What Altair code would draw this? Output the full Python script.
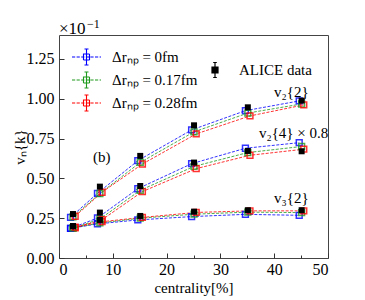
import altair as alt
import pandas as pd

FONT = "Liberation Serif"

# ---------------- data (values in units of 10^-1) ----------------
cent = [2.5, 7.5, 15, 25, 35, 45]
models = ["Δrₙₚ = 0fm", "Δrₙₚ = 0.17fm", "Δrₙₚ = 0.28fm"]
model_colors = ["#0000ff", "#1f9a1f", "#ff0000"]
model_shift = [-0.35, 0.1, 0.5]
alice_shift = 0.1
alice_label = "ALICE data"

v22_model = [
    [0.255, 0.406, 0.611, 0.804, 0.925, 0.986],
    [0.258, 0.405, 0.600, 0.792, 0.910, 0.967],
    [0.262, 0.413, 0.590, 0.779, 0.892, 0.961],
]
v24_model = [
    [0.186, 0.251, 0.435, 0.592, 0.689, 0.724],
    [0.186, 0.245, 0.425, 0.575, 0.662, 0.700],
    [0.190, 0.240, 0.417, 0.561, 0.645, 0.683],
]
v32_model = [
    [0.186, 0.214, 0.239, 0.260, 0.274, 0.268],
    [0.190, 0.220, 0.250, 0.275, 0.288, 0.285],
    [0.194, 0.228, 0.255, 0.286, 0.296, 0.296],
]
v22_alice = [0.276, 0.448, 0.641, 0.833, 0.946, 0.988]
v24_alice = [0.200, 0.285, 0.452, 0.599, 0.672, 0.670]
v32_alice = [0.200, 0.239, 0.264, 0.291, 0.300, 0.300]

ann_text = ["v₂{2}", "v₂{4} × 0.8", "v₃{2}", "(b)"]
ann_x = [43.2, 43.6, 43.2, 7.95]
ann_y = [1.043, 0.785, 0.377, 0.634]
exp_base = ["×10"]
exp_power = ["−1"]
exp_x = [0.0]
exp_y = [1.438]

x_major = [0, 10, 20, 30, 40, 50]
x_minor = [5, 15, 25, 35, 45]
y_major = [0.0, 0.25, 0.5, 0.75, 1.0, 1.25]

# ---------------- tables ----------------
rows = []
for obs, table in (("v22", v22_model), ("v24", v24_model), ("v32", v32_model)):
    for m, name in enumerate(models):
        for c, v in zip(cent, table[m]):
            rows.append({"model": name, "obs": obs, "x": c + model_shift[m], "y": v})
df_models = pd.DataFrame(rows)

arows = []
for obs, vals in (("v22", v22_alice), ("v24", v24_alice), ("v32", v32_alice)):
    for c, v in zip(cent, vals):
        arows.append({"label": alice_label, "obs": obs, "x": c + alice_shift, "y": v})
df_alice = pd.DataFrame(arows)

df_ann = pd.DataFrame({"t": ann_text, "x": ann_x, "y": ann_y})
df_exp = pd.DataFrame({"b": exp_base, "p": exp_power, "x": exp_x, "y": exp_y})

# ---------------- legend symbol paths ----------------
def dashed(x0, x1, dash, gap):
    parts = []
    x = x0
    while x < x1:
        e = min(x + dash, x1)
        parts.append(f"M{x:.3f},0H{e:.3f}")
        x = e + gap
    return "".join(parts)

model_path = (dashed(-1.45, 1.45, 0.32, 0.14)
              + "M0,-0.8V0.8M-0.2,-0.8H0.2M-0.2,0.8H0.2"
              + "M-0.3,-0.3H0.3V0.3H-0.3Z")
alice_path = ("M0,-0.75V0.75M-0.18,-0.75H0.18M-0.18,0.75H0.18"
              "M-0.3,-0.3H0.3V0.3H-0.3Z")

xs = alt.Scale(domain=[0, 50], nice=False, zero=False)
ys = alt.Scale(domain=[0, 1.40], nice=False, zero=False)

color_scale = alt.Scale(domain=models, range=model_colors)
model_legend = alt.Legend(
    title=None, orient="none", legendX=16.5, legendY=11,
    symbolType=model_path, symbolSize=400, symbolStrokeWidth=1.1,
    symbolFillColor="transparent", symbolOpacity=1, symbolDash=[1, 0],
    labelOffset=14.5, rowPadding=1, padding=0,
    labelFont=FONT, labelFontSize=15, labelColor="black")

axis_text = dict(labelFont=FONT, labelFontSize=16, labelColor="black",
                 titleFont=FONT, titleFontSize=15, titleColor="black",
                 titleFontWeight="normal")

main_x_axis = alt.Axis(values=x_major, format="d", ticks=False, domain=False, grid=False,
                       labelPadding=3, title="centrality[%]", orient="bottom",
                       titleX=134.5, titleY=29, titleBaseline="middle", **axis_text)
main_y_axis = alt.Axis(values=y_major, format=".2f", ticks=False, domain=False, grid=False,
                       labelPadding=5, title="vₙ{k}", orient="left",
                       titleX=-40, titleY=111.5, titleBaseline="middle", titleAngle=-90,
                       **axis_text)

lines = alt.Chart(df_models).mark_line(strokeDash=[3, 1.5], strokeWidth=1, opacity=0.8).encode(
    x=alt.X("x:Q", scale=xs, axis=main_x_axis),
    y=alt.Y("y:Q", scale=ys, axis=main_y_axis),
    color=alt.Color("model:N", scale=color_scale, legend=model_legend),
    detail="obs:N",
)

tick_x_axis = alt.Axis(values=x_major, ticks=True, tickSize=5, offset=-5, labels=False,
                       domain=False, grid=False, title=None, orient="bottom", tickColor="#333")
tick_y_axis = alt.Axis(values=y_major, ticks=True, tickSize=5, offset=-5, labels=False,
                       domain=False, grid=False, title=None, orient="left", tickColor="#333")

points = alt.Chart(df_models).mark_point(shape="square", filled=False, size=34,
                                         strokeWidth=1.5, opacity=0.8).encode(
    x=alt.X("x:Q", scale=xs, axis=tick_x_axis),
    y=alt.Y("y:Q", scale=ys, axis=tick_y_axis),
    color=alt.Color("model:N", scale=color_scale, legend=model_legend),
)

minor_x_axis = alt.Axis(values=x_minor, ticks=True, tickSize=3, offset=-3, labels=False,
                        domain=False, grid=False, title=None, orient="bottom", tickColor="#333")
minor_y_axis = alt.Axis(values=y_major, ticks=False, labels=False, domain=False, grid=False,
                        title=None, orient="left")

alice = alt.Chart(df_alice).mark_square(size=36, opacity=1).encode(
    x=alt.X("x:Q", scale=xs, axis=minor_x_axis),
    y=alt.Y("y:Q", scale=ys, axis=minor_y_axis),
    fill=alt.Fill("label:N", scale=alt.Scale(domain=[alice_label], range=["black"]),
                  legend=alt.Legend(
                      title=None, orient="none", legendX=145, legendY=24,
                      symbolType=alice_path, symbolSize=400, symbolStrokeWidth=1.2,
                      symbolStrokeColor="black", symbolFillColor="black", symbolOpacity=1,
                      labelOffset=13, padding=0,
                      labelFont=FONT, labelFontSize=15, labelColor="black")),
)

texts = alt.Chart(df_ann).mark_text(font=FONT, fontSize=15, color="black",
                                    baseline="middle", align="center").encode(
    x=alt.X("x:Q", scale=xs, axis=None),
    y=alt.Y("y:Q", scale=ys, axis=None),
    text="t:N",
)
exp_label = alt.Chart(df_exp).mark_text(font=FONT, fontSize=17, color="black",
                                        baseline="middle", align="left").encode(
    x=alt.X("x:Q", scale=xs, axis=None),
    y=alt.Y("y:Q", scale=ys, axis=None),
    text="b:N",
)
exp_power_label = alt.Chart(df_exp).mark_text(font=FONT, fontSize=12, color="black",
                                              baseline="middle", align="left",
                                              dx=28, dy=-5).encode(
    x=alt.X("x:Q", scale=xs, axis=None),
    y=alt.Y("y:Q", scale=ys, axis=None),
    text="p:N",
)

chart = alt.layer(lines, points, alice, texts, exp_label, exp_power_label).resolve_axis(
    x="independent", y="independent"
).properties(
    width=269, height=223, autosize="none", background="white",
    padding={"left": 51, "top": 27, "right": 10, "bottom": 42},
).configure_view(stroke="#444", strokeWidth=1)

chart.save("out.html", embed_options={"renderer": "svg", "actions": False})
